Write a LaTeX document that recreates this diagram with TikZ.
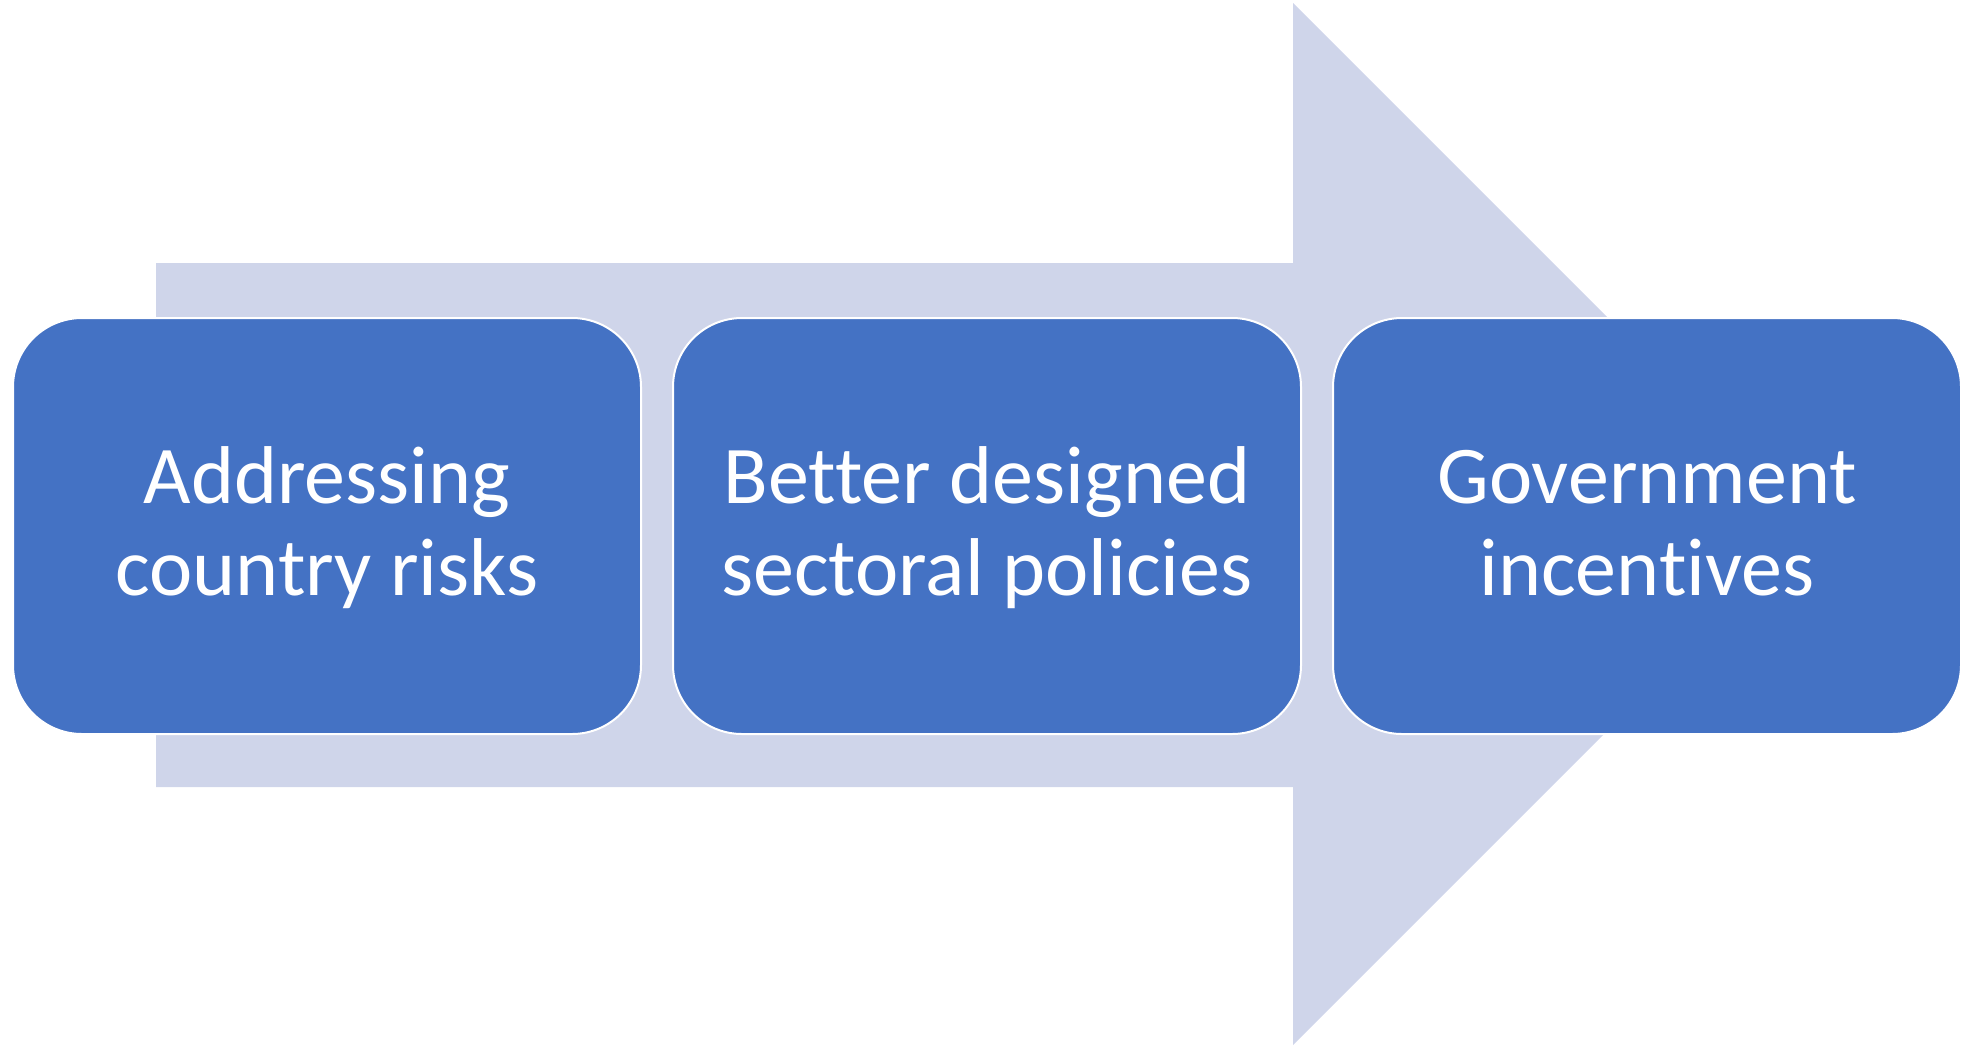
\documentclass[tikz,border=0pt]{standalone}
\usepackage{fontspec}
\setmainfont{Carlito}[Ligatures=NoCommon]
\definecolor{boxblue}{HTML}{4472C4}
\definecolor{arrowfill}{HTML}{CFD5EA}
\tikzset{
  stagebox/.style={draw=white, line width=2pt, fill=boxblue, rounded corners=69pt,
    minimum width=628pt, minimum height=416pt, inner sep=0pt},
  stagetext/.style={text=white, align=center, inner sep=0pt,
    font=\fontsize{82}{92}\selectfont},
}
\begin{document}
\begin{tikzpicture}[x=1pt,y=-1pt]
\useasboundingbox (0,0) rectangle (1964,1045);
\fill[arrowfill] (156,263) -- (1293,263) -- (1293,3) -- (1814,524) -- (1293,1045) -- (1293,787) -- (156,787) -- cycle;
\node[stagebox] (b1) at (327,526) {};
\node[stagebox] (b2) at (987,526) {};
\node[stagebox] (b3) at (1647,526) {};
\node[stagetext] (t1) at (327,530.6) {Addressing\strut\\country risks\strut};
\node[stagetext] (t2) at (987,530.6) {Better designed\strut\\sectoral policies\strut};
\node[stagetext] (t3) at (1647,530.6) {Government\strut\\incentives\strut};
\end{tikzpicture}
\end{document}
